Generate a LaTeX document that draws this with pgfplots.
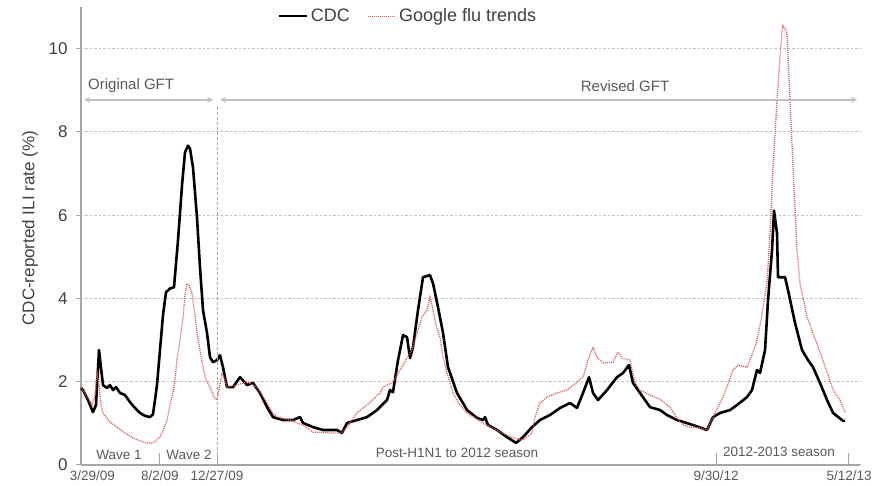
\documentclass[border=0pt]{standalone}
\usepackage{fontspec}
\setmainfont{Liberation Sans}
\usepackage{pgfplots}
\pgfplotsset{compat=1.18}
\usetikzlibrary{arrows.meta}
\definecolor{txt}{HTML}{404040}
\definecolor{anno}{HTML}{595959}
\definecolor{gftred}{HTML}{E05858}
\definecolor{axgray}{HTML}{A6A6A6}
\begin{document}
\begin{tikzpicture}
\begin{axis}[
 at={(0,0)}, anchor=south west,
 scale only axis, width=779pt, height=458pt,
 xmin=0, xmax=218.35, ymin=0, ymax=11,
 axis x line*=bottom, axis y line*=left,
 axis line style={axgray, line width=1.5pt},
 ytick={0,2,...,10},
 xtick={3.2,22.14,38.12,178,215.3},
 xticklabels={3/29/09,8/2/09,12/27/09,9/30/12,5/12/13},
 tick align=outside, major tick length=5pt,
 tick style={axgray, line width=1pt},
 xtick style={draw=none},
 ymajorgrids,
 grid style={axgray!70, line width=1pt, dash pattern=on 2.5pt off 2pt},
 /pgf/number format/assume math mode=true,
 yticklabel style={font=\fontsize{17}{17}\selectfont, text=txt, xshift=-5pt},
 xticklabel style={font=\fontsize{13.5}{13.5}\selectfont, text=anno, yshift=2.5pt},
 ylabel={CDC-reported ILI rate (\%)},
 ylabel style={font=\fontsize{17}{17}\selectfont, text=txt, at={(axis description cs:-0.0655,0.517)}, anchor=center},
 legend style={at={(axis description cs:0.42,0.98)}, anchor=center, draw=none, fill=none,
   font=\fontsize{18}{18}\selectfont, text=txt,
   /tikz/every even column/.append style={column sep=16pt}},
 legend columns=2,
 legend image code/.code={\draw[#1] (0pt,0pt) -- (28pt,0pt);},
 clip=false,
]
\addplot[black, line width=2.6pt, line join=round] table {
0.00 1.85
0.56 1.80
1.96 1.56
3.36 1.27
4.20 1.44
5.05 2.76
5.61 2.33
6.17 1.92
7.29 1.85
8.13 1.92
8.97 1.80
9.81 1.87
10.93 1.73
12.33 1.68
13.74 1.51
15.14 1.37
16.54 1.25
17.94 1.18
19.34 1.15
20.18 1.22
20.74 1.56
21.30 1.92
22.14 2.76
22.98 3.60
23.83 4.15
24.95 4.24
26.07 4.27
27.19 5.40
28.31 6.71
29.15 7.51
29.99 7.67
30.55 7.60
31.39 7.15
32.51 5.95
33.35 4.75
34.20 3.72
35.32 3.17
36.16 2.59
37.00 2.47
38.12 2.52
38.96 2.64
39.80 2.35
40.92 1.87
42.61 1.87
44.57 2.11
46.53 1.92
48.21 1.97
50.17 1.73
52.14 1.39
53.82 1.15
56.62 1.08
59.43 1.08
61.39 1.15
62.23 1.01
65.03 0.91
67.84 0.84
71.76 0.84
73.16 0.77
74.56 1.01
77.36 1.08
80.17 1.15
82.97 1.32
85.77 1.56
86.61 1.80
87.45 1.75
88.86 2.52
90.26 3.12
91.38 3.07
92.22 2.57
93.06 2.83
94.46 3.72
95.86 4.51
97.82 4.56
98.67 4.36
100.07 3.79
101.47 3.17
102.87 2.35
105.39 1.73
108.20 1.32
111.00 1.13
112.68 1.08
113.24 1.15
114.08 0.96
116.61 0.84
119.41 0.67
121.93 0.53
123.89 0.67
126.42 0.91
128.66 1.08
131.46 1.20
134.27 1.37
137.07 1.49
139.03 1.37
140.71 1.73
142.40 2.11
143.52 1.73
144.92 1.56
147.44 1.80
150.24 2.11
151.92 2.21
153.60 2.40
154.73 1.97
156.69 1.73
159.49 1.39
162.29 1.32
164.26 1.20
167.06 1.08
171.54 0.96
175.47 0.84
177.15 1.15
179.11 1.25
181.91 1.32
183.88 1.44
186.68 1.63
188.08 1.80
189.48 2.28
190.32 2.21
191.73 2.76
192.57 3.96
193.69 5.16
194.25 6.11
195.09 5.56
195.37 4.51
197.33 4.51
198.17 4.20
200.14 3.41
202.10 2.76
203.78 2.52
205.18 2.35
207.14 1.97
209.11 1.56
210.79 1.25
213.59 1.06
214.15 1.06
};
\addlegendentry{CDC}
\addplot[gftred, line width=1.3pt, dash pattern=on 1pt off 1pt] table {
0.00 1.85
0.56 1.80
1.96 1.61
3.08 1.44
3.92 1.68
4.48 2.21
5.05 1.92
5.61 1.44
6.17 1.25
8.13 1.03
10.09 0.91
12.33 0.77
14.58 0.65
16.54 0.58
18.50 0.53
20.18 0.53
22.14 0.67
23.27 0.89
24.11 1.08
24.95 1.44
25.79 1.73
26.35 2.04
26.91 2.52
27.75 3.00
28.59 3.55
29.15 4.08
29.71 4.36
30.27 4.32
31.11 4.12
31.95 3.60
32.51 3.17
33.35 2.76
34.20 2.35
35.04 2.04
36.16 1.87
37.28 1.63
38.12 1.56
38.68 1.80
39.52 2.21
40.36 2.04
40.92 1.87
43.73 1.92
46.53 2.00
49.33 1.87
50.73 1.68
52.14 1.49
53.54 1.27
54.94 1.15
58.58 1.08
62.23 0.96
65.03 0.79
69.79 0.77
73.16 0.77
74.56 0.91
77.36 1.25
80.17 1.44
83.81 1.73
84.65 1.87
87.45 1.99
89.42 2.28
91.38 2.57
92.78 2.76
94.18 3.17
95.58 3.55
96.98 3.72
97.82 4.03
98.67 3.72
99.51 3.36
100.63 3.07
101.47 2.59
102.59 2.21
104.27 1.73
106.23 1.44
108.20 1.25
110.44 1.13
112.68 1.01
117.45 0.79
121.09 0.65
123.89 0.60
126.42 0.77
127.26 1.15
128.66 1.49
130.62 1.63
133.42 1.73
136.23 1.80
139.03 1.99
140.71 2.11
142.11 2.52
143.52 2.83
144.63 2.59
146.32 2.45
149.12 2.47
150.52 2.71
151.64 2.57
153.88 2.52
155.29 1.97
156.69 1.80
159.49 1.68
162.29 1.58
165.10 1.39
167.06 1.13
168.74 0.96
170.71 0.91
173.51 0.89
175.47 0.84
177.15 1.15
179.96 1.63
182.76 2.28
184.16 2.40
186.68 2.35
188.08 2.64
189.48 3.00
190.60 3.48
191.45 3.96
192.29 4.36
193.13 5.56
193.97 7.15
195.09 8.75
195.93 9.78
196.49 10.43
196.77 10.55
197.33 10.48
197.89 10.36
198.73 8.75
199.58 7.15
200.70 5.16
201.54 4.36
203.50 3.55
205.18 3.17
207.14 2.71
209.11 2.23
210.79 1.80
212.75 1.56
214.15 1.27
};
\addlegendentry{Google flu trends}
% annotations
\draw[axgray, line width=1pt, dash pattern=on 3pt off 2pt] (axis cs:38.12,0) -- (axis cs:38.12,8.6);
\draw[axgray, line width=1pt] (axis cs:22.14,0) -- ++(0pt,12pt);
\draw[axgray, line width=1pt] (axis cs:38.12,0) -- ++(0pt,12pt);
\draw[axgray, line width=1pt] (axis cs:178,0) -- ++(0pt,12pt);
\draw[axgray, line width=1pt] (axis cs:215,0) -- ++(0pt,12pt);
\draw[axgray!70, line width=1.5pt, {Stealth[length=6pt,width=6pt,open]}-{Stealth[length=6pt,width=6pt,open]}] (axis cs:0.84,8.77) -- (axis cs:37.0,8.77);
\draw[axgray!70, line width=1.5pt, {Stealth[length=6pt,width=6pt,open]}-{Stealth[length=6pt,width=6pt,open]}] (axis cs:38.96,8.77) -- (axis cs:217.5,8.77);
\node[anchor=west, inner sep=0pt, text=anno, font=\fontsize{15}{15}\selectfont] at (axis cs:1.96,9.10) {Original GFT};
\node[inner sep=0pt, text=anno, font=\fontsize{15}{15}\selectfont] at (axis cs:152.5,9.10) {Revised GFT};
\node[inner sep=0pt, text=anno, font=\fontsize{13.5}{13.5}\selectfont] at (axis cs:10.65,0.24) {Wave 1};
\node[inner sep=0pt, text=anno, font=\fontsize{13.5}{13.5}\selectfont] at (axis cs:30.27,0.24) {Wave 2};
\node[inner sep=0pt, text=anno, font=\fontsize{13.5}{13.5}\selectfont] at (axis cs:105.4,0.29) {Post-H1N1 to 2012 season};
\node[inner sep=0pt, text=anno, font=\fontsize{13.5}{13.5}\selectfont] at (axis cs:195.65,0.31) {2012-2013 season};
\end{axis}
\pgfresetboundingbox
\path (-81pt,-21pt) rectangle (792pt,465pt);
\end{tikzpicture}
\end{document}
